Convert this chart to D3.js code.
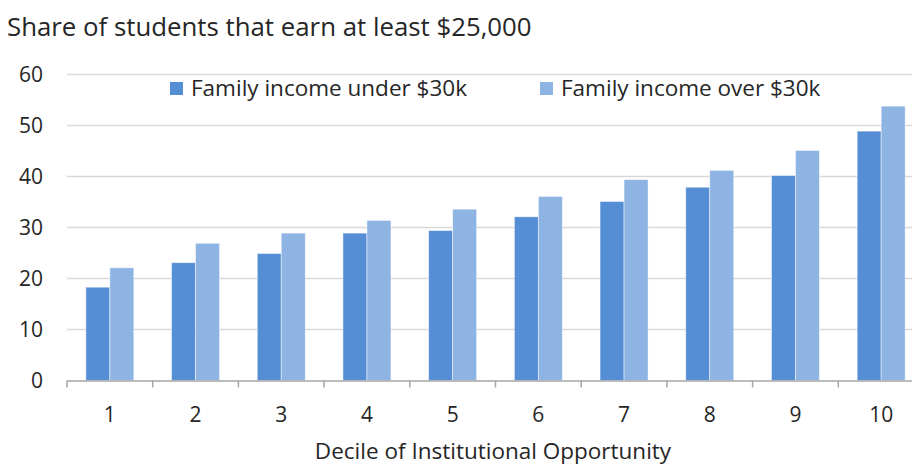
<!DOCTYPE html>
<html>
<head>
<meta charset="utf-8">
<script src="https://cdn.jsdelivr.net/npm/d3@7"></script>
<style>
  body { margin: 0; background: #fff; }
  text { font-family: "Open Sans", "Noto Sans", sans-serif; fill: #262626; }
</style>
</head>
<body>
<div id="chart"></div>
<script>
// Data
const deciles = ["1", "2", "3", "4", "5", "6", "7", "8", "9", "10"];
const seriesNames = ["Family income under $30k", "Family income over $30k"];
const under30k = [18.3, 23.1, 24.9, 28.9, 29.4, 32.1, 35.1, 37.9, 40.2, 48.9];
const over30k  = [22.1, 26.9, 28.9, 31.4, 33.6, 36.1, 39.4, 41.2, 45.1, 53.8];
const yTicks = [0, 10, 20, 30, 40, 50, 60];
const colors = ["#558ed5", "#8eb4e3"];

const width = 912, height = 466;
const plot = {left: 67, right: 924, top: 74.5, bottom: 380.5};

const svg = d3.select("#chart")
  .append("svg")
    .attr("width", width)
    .attr("height", height);

// Scales
const x = d3.scaleBand()
  .domain(deciles)
  .range([plot.left, plot.right])
  .padding(0);

const x1 = d3.scaleBand()
  .domain([0, 1])
  .range([0, x.bandwidth()])
  .paddingInner(0)
  .paddingOuter(0.785);

const y = d3.scaleLinear()
  .domain([0, 60])
  .range([plot.bottom, plot.top]);

// Gridlines
svg.append("g")
  .selectAll("line")
  .data(yTicks.filter(d => d > 0))
  .join("line")
    .attr("x1", plot.left)
    .attr("x2", width)
    .attr("y1", d => y(d))
    .attr("y2", d => y(d))
    .attr("stroke", "#d9d9d9")
    .attr("stroke-width", 1.3);

// Y axis labels (no axis line)
const yAxis = svg.append("g")
  .attr("transform", `translate(${plot.left},0)`)
  .call(d3.axisLeft(y).tickValues(yTicks).tickSize(0).tickPadding(24));
yAxis.select(".domain").remove();
yAxis.selectAll("text")
  .style("font-size", "21px")
  .attr("fill", "#262626");

// Bars
const rows = deciles.map((d, i) => ({decile: d, values: [under30k[i], over30k[i]]}));

svg.append("g")
  .selectAll("g")
  .data(rows)
  .join("g")
    .attr("transform", d => `translate(${x(d.decile)},0)`)
  .selectAll("rect")
  .data(d => d.values.map((v, k) => ({k, v})))
  .join("rect")
    .attr("x", d => x1(d.k))
    .attr("width", x1.bandwidth())
    .attr("y", d => y(d.v))
    .attr("height", d => y(0) - y(d.v))
    .attr("fill", d => colors[d.k])
    .attr("stroke", "#ffffff")
    .attr("stroke-opacity", 0.6)
    .attr("stroke-width", 0.8);

// X axis with ticks between categories
const xAxis = svg.append("g")
  .attr("transform", `translate(0,${plot.bottom})`)
  .call(d3.axisBottom(x).tickSize(0).tickPadding(27));
xAxis.select(".domain")
  .attr("stroke", "#a6a6a6")
  .attr("stroke-width", 1.5);
xAxis.selectAll("text")
  .style("font-size", "21px")
  .attr("fill", "#262626");

const boundaries = deciles.map(d => x(d)).concat([x.range()[1]]);
xAxis.selectAll(".sep")
  .data(boundaries)
  .join("line")
    .attr("class", "sep")
    .attr("x1", d => d)
    .attr("x2", d => d)
    .attr("y1", 0)
    .attr("y2", 7)
    .attr("stroke", "#a6a6a6")
    .attr("stroke-width", 1.5);

// Title
svg.append("text")
  .attr("x", 7)
  .attr("y", 36)
  .style("font-size", "25.8px")
  .text("Share of students that earn at least $25,000");

// Axis title
svg.append("text")
  .attr("x", 493)
  .attr("y", 459)
  .attr("text-anchor", "middle")
  .style("font-size", "22.5px")
  .text("Decile of Institutional Opportunity");

// Legend
const legendX = [170, 540];
const legend = svg.append("g")
  .selectAll("g")
  .data(seriesNames)
  .join("g")
    .attr("transform", (d, i) => `translate(${legendX[i]},82)`);
legend.append("rect")
  .attr("width", 13)
  .attr("height", 13)
  .attr("fill", (d, i) => colors[i]);
legend.append("text")
  .attr("x", 21)
  .attr("y", 14)
  .style("font-size", "22.5px")
  .text(d => d);
</script>
</body>
</html>
